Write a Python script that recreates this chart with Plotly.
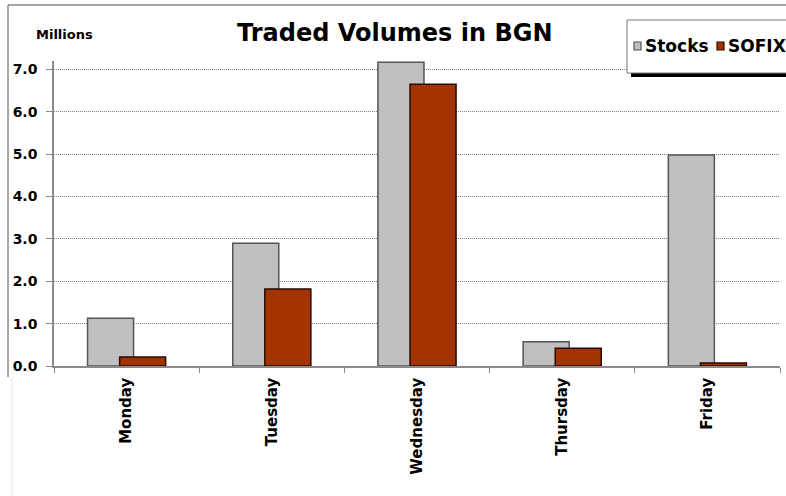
import plotly.graph_objects as go

days = ["Monday", "Tuesday", "Wednesday", "Thursday", "Friday"]
stocks = [1.13, 2.90, 7.17, 0.57, 4.98]
sofix = [0.21, 1.82, 6.65, 0.42, 0.07]
y_ticks = [0, 1, 2, 3, 4, 5, 6, 7]

W, H = 786, 496
L, R, T, B = 54, 780, 61, 366  # plot area in pixels


def px(x):
    return (x - L) / (R - L)


def py(y):
    return (B - y) / (B - T)


FONT = "Verdana, 'DejaVu Sans', sans-serif"

fig = go.Figure()
fig.add_trace(go.Bar(
    x=days, y=stocks, name="Stocks", width=0.317, offset=-0.269,
    marker=dict(color="#C0C0C0", line=dict(color="#555555", width=1.5)),
    showlegend=False,
))
fig.add_trace(go.Bar(
    x=days, y=sofix, name="SOFIX", width=0.317, offset=-0.048,
    marker=dict(color="#A33300", line=dict(color="#2a0a00", width=1.5)),
    showlegend=False,
))

shapes = [
    # outer frame top and left
    dict(type="line", xref="paper", yref="paper", x0=px(8), x1=px(800), y0=py(5), y1=py(5),
         line=dict(color="#8a8a8a", width=1.5)),
    dict(type="line", xref="paper", yref="paper", x0=px(8), x1=px(8), y0=py(5), y1=py(377),
         line=dict(color="#8a8a8a", width=1.5)),
    dict(type="line", xref="paper", yref="paper", x0=px(12), x1=px(12), y0=py(378), y1=py(500),
         line=dict(color="#e4e4e4", width=1)),
    # legend shadow and box
    dict(type="rect", xref="paper", yref="paper", x0=px(631), x1=px(800), y0=py(24), y1=py(77),
         fillcolor="black", line=dict(width=0)),
    dict(type="rect", xref="paper", yref="paper", x0=px(627), x1=px(800), y0=py(20), y1=py(73),
         fillcolor="white", line=dict(color="#777777", width=1)),
    # legend swatches
    dict(type="rect", xref="paper", yref="paper", x0=px(634), x1=px(641), y0=py(42), y1=py(50),
         fillcolor="#C0C0C0", line=dict(color="#555555", width=1.2)),
    dict(type="rect", xref="paper", yref="paper", x0=px(717), x1=px(724), y0=py(42), y1=py(50),
         fillcolor="#A33300", line=dict(color="#2a0a00", width=1.2)),
]

annotations = [
    dict(text="<b>Traded Volumes in BGN</b>", xref="paper", yref="paper", x=px(395), y=py(33),
         xanchor="center", yanchor="middle", showarrow=False,
         font=dict(family=FONT, size=24, color="black")),
    dict(text="<b>Millions</b>", xref="paper", yref="paper", x=px(34), y=py(35),
         xanchor="left", yanchor="middle", showarrow=False,
         font=dict(family=FONT, size=13, color="black")),
    dict(text="<b>Stocks</b>", xref="paper", yref="paper", x=px(643), y=py(46),
         xanchor="left", yanchor="middle", showarrow=False,
         font=dict(family=FONT, size=17, color="black")),
    dict(text="<b>SOFIX</b>", xref="paper", yref="paper", x=px(726), y=py(46),
         xanchor="left", yanchor="middle", showarrow=False,
         font=dict(family=FONT, size=17, color="black")),
]

fig.update_layout(
    width=W, height=H,
    margin=dict(l=L, r=W - R, t=T, b=H - B),
    barmode="overlay",
    plot_bgcolor="white", paper_bgcolor="white",
    shapes=shapes, annotations=annotations,
    showlegend=False,
)
fig.update_xaxes(
    type="category", range=[-0.5, 4.5],
    showline=True, linecolor="#8a8a8a", linewidth=1.5,
    ticks="outside", tickson="boundaries", ticklen=5, tickcolor="#8a8a8a",
    tickangle=-90, showgrid=False, ticklabelstandoff=4,
    tickfont=dict(family=FONT, size=15, color="black", weight="bold"),
)
fig.update_yaxes(
    range=[0, 7.2], tickvals=y_ticks, tickformat=".1f",
    showline=True, linecolor="#8a8a8a", linewidth=1.5,
    ticks="outside", ticklen=6, tickcolor="#8a8a8a",
    showgrid=True, gridcolor="#808080", griddash="1px,1px", gridwidth=1,
    zeroline=False, ticklabelstandoff=6,
    tickfont=dict(family=FONT, size=14, color="black", weight="bold"),
)

fig.write_html("out.html")
